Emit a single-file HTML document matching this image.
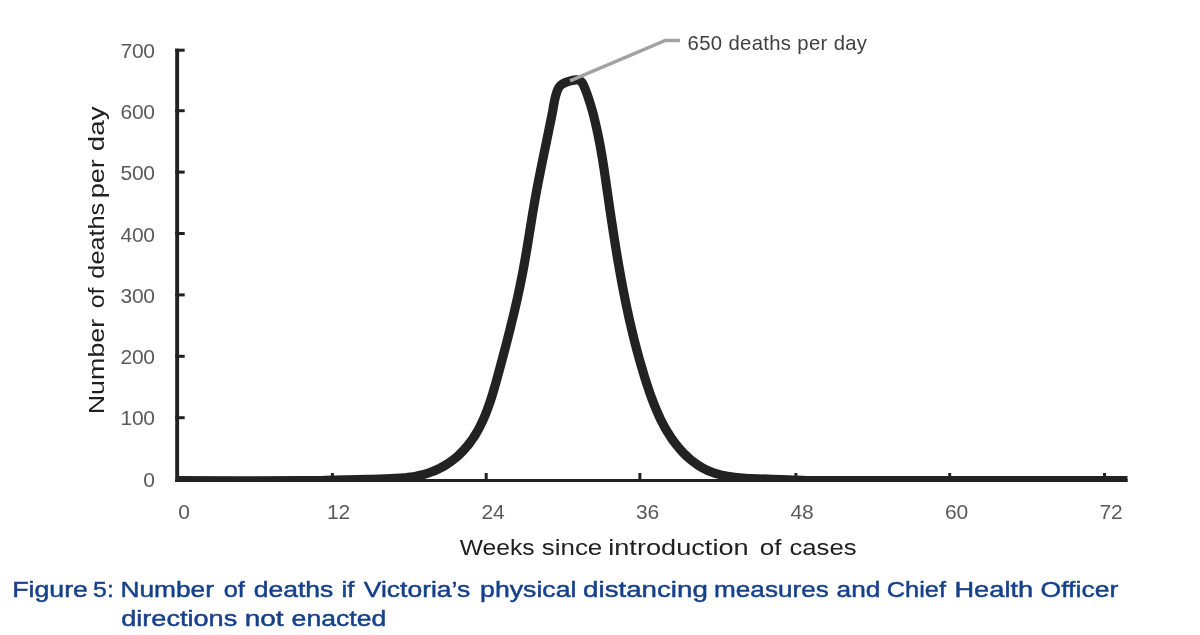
<!DOCTYPE html>
<html lang="en"><head><meta charset="utf-8"><title>Figure 5</title>
<style>html,body{margin:0;padding:0;background:#fff;}body{width:1200px;height:635px;overflow:hidden;font-family:"Liberation Sans",sans-serif;}svg{display:block;will-change:transform;}text{font-family:"Liberation Sans",sans-serif;}</style></head><body>
<svg width="1200" height="635" viewBox="0 0 1200 635">
<rect width="1200" height="635" fill="#ffffff"/>
<defs><clipPath id="plot"><rect x="170" y="0" width="1030" height="482"/></clipPath></defs>
<g fill="#222222">
<rect x="175.2" y="48.7" width="3.9" height="433.3"/>
<rect x="175.2" y="479" width="952.3" height="3"/>
<rect x="175.2" y="48.70" width="9.5" height="3"/>
<rect x="175.2" y="109.20" width="9.5" height="3"/>
<rect x="175.2" y="170.60" width="9.5" height="3"/>
<rect x="175.2" y="232.00" width="9.5" height="3"/>
<rect x="175.2" y="293.40" width="9.5" height="3"/>
<rect x="175.2" y="354.80" width="9.5" height="3"/>
<rect x="175.2" y="416.20" width="9.5" height="3"/>
<rect x="330.90" y="473" width="3" height="7"/>
<rect x="484.70" y="473" width="3" height="7"/>
<rect x="638.40" y="473" width="3" height="7"/>
<rect x="794.40" y="473" width="3" height="7"/>
<rect x="948.20" y="473" width="3" height="7"/>
<rect x="1103.00" y="473" width="3" height="7"/>
</g>
<g font-size="21" fill="#595959" text-anchor="end" letter-spacing="-0.3">
<text x="154.7" y="57.80">700</text>
<text x="154.7" y="119.06">600</text>
<text x="154.7" y="180.32">500</text>
<text x="154.7" y="241.58">400</text>
<text x="154.7" y="302.84">300</text>
<text x="154.7" y="364.10">200</text>
<text x="154.7" y="425.36">100</text>
<text x="154.7" y="486.62">0</text>
</g>
<g font-size="21" fill="#595959" text-anchor="middle" letter-spacing="-0.3">
<text x="184.00" y="519.4">0</text>
<text x="338.50" y="519.4">12</text>
<text x="493.00" y="519.4">24</text>
<text x="647.50" y="519.4">36</text>
<text x="802.00" y="519.4">48</text>
<text x="956.50" y="519.4">60</text>
<text x="1111.00" y="519.4">72</text>
</g>
<g clip-path="url(#plot)"><path d="M176.00,480.70 C196.67,480.70 273.83,480.82 300.00,480.70 C326.17,480.58 321.88,480.22 333.00,480.00 C344.12,479.78 355.56,479.73 366.70,479.40 C377.84,479.07 393.38,478.33 399.81,478.05 C406.24,477.77 403.45,477.88 405.26,477.72 C407.07,477.57 408.88,477.37 410.68,477.12 C412.48,476.87 414.28,476.57 416.06,476.23 C417.84,475.88 419.61,475.49 421.37,475.05 C423.12,474.61 424.87,474.12 426.59,473.58 C428.31,473.04 430.01,472.45 431.69,471.81 C433.37,471.18 435.03,470.49 436.66,469.75 C438.29,469.01 439.90,468.22 441.47,467.39 C443.05,466.55 444.60,465.66 446.11,464.72 C447.62,463.78 449.10,462.79 450.55,461.75 C451.99,460.72 453.41,459.64 454.79,458.51 C456.17,457.39 457.51,456.22 458.82,455.01 C460.13,453.80 461.40,452.55 462.64,451.27 C463.87,449.98 465.07,448.66 466.23,447.30 C467.39,445.95 468.52,444.55 469.60,443.13 C470.68,441.71 471.73,440.25 472.73,438.77 C473.74,437.29 474.70,435.78 475.64,434.25 C476.57,432.72 477.46,431.16 478.32,429.58 C479.18,428.01 480.01,426.41 480.81,424.79 C481.60,423.18 482.37,421.55 483.11,419.90 C483.85,418.26 484.55,416.60 485.24,414.94 C485.92,413.27 486.58,411.59 487.22,409.91 C487.85,408.23 488.46,406.54 489.06,404.84 C489.65,403.14 490.23,401.44 490.78,399.73 C491.34,398.02 491.88,396.30 492.41,394.58 C492.94,392.86 493.45,391.13 493.96,389.41 C494.46,387.68 494.96,385.95 495.45,384.22 C495.93,382.48 496.41,380.75 496.89,379.01 C497.37,377.28 497.84,375.54 498.31,373.80 C498.78,372.06 499.25,370.33 499.72,368.59 C500.19,366.86 500.66,365.12 501.12,363.38 C501.59,361.65 502.05,359.91 502.52,358.18 C502.98,356.44 503.44,354.70 503.90,352.97 C504.36,351.23 504.82,349.50 505.27,347.76 C505.73,346.02 506.18,344.29 506.63,342.55 C507.08,340.81 507.53,339.08 507.97,337.34 C508.42,335.60 508.86,333.86 509.30,332.13 C509.74,330.39 510.17,328.65 510.61,326.91 C511.04,325.17 511.47,323.43 511.89,321.69 C512.32,319.95 512.74,318.21 513.16,316.46 C513.58,314.72 513.99,312.98 514.40,311.24 C514.81,309.49 515.22,307.75 515.62,306.00 C516.02,304.26 516.42,302.51 516.81,300.76 C517.21,299.01 517.59,297.27 517.98,295.52 C518.36,293.77 518.74,292.01 519.11,290.26 C519.49,288.51 519.85,286.76 520.22,285.00 C520.58,283.25 520.94,281.49 521.29,279.73 C521.64,277.98 521.99,276.22 522.33,274.46 C522.67,272.70 523.00,270.93 523.33,269.17 C523.66,267.41 523.98,265.64 524.30,263.87 C524.62,262.11 524.93,260.34 525.24,258.57 C525.55,256.80 525.85,255.03 526.15,253.26 C526.45,251.49 526.75,249.72 527.04,247.94 C527.34,246.17 527.63,244.40 527.92,242.62 C528.21,240.85 528.49,239.08 528.78,237.30 C529.07,235.53 529.35,233.75 529.64,231.98 C529.92,230.20 530.21,228.42 530.49,226.65 C530.78,224.87 531.07,223.10 531.35,221.32 C531.64,219.55 531.93,217.78 532.22,216.00 C532.52,214.23 532.81,212.45 533.11,210.68 C533.41,208.91 533.71,207.14 534.01,205.37 C534.31,203.60 534.62,201.83 534.94,200.06 C535.25,198.29 535.57,196.52 535.89,194.76 C536.21,192.99 536.54,191.22 536.87,189.46 C537.20,187.70 537.53,185.93 537.87,184.17 C538.21,182.41 538.55,180.65 538.90,178.88 C539.24,177.12 539.59,175.36 539.94,173.60 C540.29,171.84 540.64,170.09 540.99,168.33 C541.35,166.57 541.70,164.81 542.06,163.05 C542.42,161.29 542.78,159.54 543.14,157.78 C543.50,156.02 543.86,154.27 544.23,152.51 C544.59,150.75 544.95,148.99 545.31,147.24 C545.68,145.48 546.04,143.72 546.41,141.97 C546.77,140.21 547.13,138.45 547.49,136.70 C547.86,134.94 548.22,133.18 548.58,131.42 C548.94,129.67 549.30,127.91 549.66,126.15 C550.02,124.39 550.37,122.63 550.73,120.87 C551.08,119.11 551.43,117.35 551.78,115.59 C552.13,113.83 552.36,112.87 552.83,110.30 C553.30,107.74 553.90,103.33 554.60,100.20 C555.30,97.07 556.17,93.80 557.00,91.50 C557.83,89.20 558.43,87.78 559.60,86.40 C560.77,85.02 562.18,84.12 564.00,83.20 C565.82,82.28 568.42,81.47 570.50,80.90 C572.58,80.33 574.92,79.85 576.50,79.80 C578.08,79.75 578.98,80.00 580.00,80.60 C581.02,81.20 581.67,81.80 582.60,83.40 C583.53,85.00 584.52,87.40 585.60,90.20 C586.68,93.00 588.01,96.85 589.10,100.20 C590.19,103.55 591.42,107.74 592.17,110.31 C592.92,112.89 593.14,113.87 593.60,115.66 C594.06,117.44 594.51,119.23 594.94,121.02 C595.38,122.81 595.80,124.61 596.21,126.41 C596.62,128.21 597.01,130.01 597.40,131.81 C597.78,133.62 598.16,135.43 598.52,137.24 C598.88,139.05 599.24,140.87 599.58,142.68 C599.93,144.50 600.26,146.32 600.59,148.14 C600.92,149.96 601.23,151.78 601.55,153.61 C601.86,155.43 602.16,157.26 602.46,159.08 C602.76,160.91 603.05,162.74 603.34,164.57 C603.63,166.40 603.91,168.24 604.19,170.07 C604.47,171.90 604.74,173.73 605.01,175.57 C605.29,177.40 605.55,179.24 605.82,181.07 C606.09,182.91 606.35,184.74 606.62,186.58 C606.88,188.41 607.14,190.25 607.41,192.08 C607.67,193.92 607.93,195.75 608.20,197.59 C608.46,199.42 608.73,201.25 608.99,203.09 C609.26,204.92 609.52,206.75 609.79,208.58 C610.06,210.41 610.33,212.25 610.60,214.08 C610.87,215.91 611.14,217.74 611.41,219.57 C611.69,221.40 611.96,223.23 612.24,225.05 C612.51,226.88 612.79,228.71 613.07,230.54 C613.35,232.37 613.64,234.19 613.92,236.02 C614.20,237.84 614.49,239.67 614.78,241.49 C615.07,243.32 615.36,245.14 615.66,246.97 C615.95,248.79 616.25,250.61 616.55,252.43 C616.85,254.26 617.15,256.08 617.45,257.90 C617.76,259.72 618.07,261.54 618.38,263.36 C618.69,265.18 619.01,267.00 619.33,268.81 C619.65,270.63 619.97,272.45 620.30,274.26 C620.62,276.08 620.95,277.89 621.29,279.71 C621.62,281.52 621.96,283.34 622.30,285.15 C622.64,286.96 622.99,288.77 623.34,290.58 C623.69,292.39 624.05,294.20 624.41,296.01 C624.77,297.82 625.13,299.63 625.50,301.44 C625.87,303.24 626.25,305.05 626.63,306.86 C627.01,308.66 627.39,310.47 627.78,312.27 C628.17,314.07 628.57,315.88 628.97,317.68 C629.37,319.48 629.78,321.28 630.19,323.08 C630.60,324.88 631.02,326.68 631.45,328.47 C631.87,330.27 632.30,332.07 632.74,333.86 C633.17,335.66 633.62,337.45 634.07,339.24 C634.52,341.04 634.97,342.83 635.43,344.62 C635.90,346.41 636.36,348.20 636.84,349.99 C637.32,351.78 637.80,353.57 638.29,355.35 C638.78,357.14 639.28,358.92 639.78,360.71 C640.29,362.49 640.80,364.27 641.32,366.06 C641.84,367.84 642.36,369.62 642.90,371.40 C643.43,373.18 643.97,374.95 644.52,376.73 C645.07,378.51 645.63,380.28 646.20,382.06 C646.77,383.83 647.34,385.60 647.93,387.37 C648.52,389.14 649.11,390.90 649.73,392.66 C650.34,394.42 650.96,396.18 651.60,397.92 C652.24,399.67 652.90,401.41 653.57,403.14 C654.24,404.87 654.93,406.59 655.65,408.30 C656.36,410.01 657.09,411.71 657.84,413.40 C658.59,415.08 659.37,416.76 660.16,418.42 C660.96,420.08 661.79,421.73 662.64,423.36 C663.49,424.99 664.36,426.60 665.26,428.20 C666.17,429.79 667.10,431.37 668.06,432.93 C669.03,434.49 670.02,436.03 671.05,437.55 C672.08,439.07 673.13,440.56 674.23,442.04 C675.33,443.51 676.45,444.96 677.62,446.39 C678.79,447.81 679.99,449.22 681.24,450.59 C682.48,451.96 683.76,453.31 685.08,454.61 C686.40,455.92 687.76,457.19 689.15,458.42 C690.55,459.64 691.98,460.83 693.45,461.96 C694.92,463.08 696.42,464.16 697.96,465.17 C699.50,466.19 701.08,467.14 702.69,468.03 C704.30,468.91 705.95,469.72 707.63,470.47 C709.31,471.21 711.02,471.88 712.76,472.49 C714.50,473.10 716.26,473.64 718.05,474.14 C719.83,474.63 721.64,475.06 723.46,475.45 C725.28,475.85 727.12,476.18 728.97,476.48 C730.81,476.78 732.68,477.03 734.54,477.26 C736.40,477.48 738.26,477.67 740.13,477.83 C741.99,478.00 743.86,478.13 745.71,478.24 C747.57,478.36 749.42,478.45 751.26,478.54 C753.09,478.62 751.65,478.56 756.73,478.75 C761.80,478.95 773.37,479.41 781.70,479.70 C790.03,479.99 796.98,480.35 806.70,480.50 C816.42,480.65 824.45,480.57 840.00,480.60 C855.55,480.63 852.08,480.68 900.00,480.70 C947.92,480.72 1089.58,480.70 1127.50,480.70" fill="none" stroke="#222222" stroke-width="9.2" stroke-linejoin="round" stroke-linecap="butt"/></g>
<path d="M570,80.9 L665.3,40.5 L680,40.5" fill="none" stroke="#a2a2a2" stroke-width="3.4" stroke-linejoin="miter"/>
<text x="687.6" y="49.6" font-size="20.3" fill="#404040" textLength="179.4" lengthAdjust="spacing">650 deaths per day</text>
<g transform="translate(103.5,412.5) rotate(-90)" font-size="22" fill="#202020">
<text x="-1.80" y="0" textLength="95.56" lengthAdjust="spacingAndGlyphs">Number</text>
<text x="104.36" y="0" textLength="20.64" lengthAdjust="spacingAndGlyphs">of</text>
<text x="133.86" y="0" textLength="75.78" lengthAdjust="spacingAndGlyphs">deaths</text>
<text x="214.32" y="0" textLength="39.06" lengthAdjust="spacingAndGlyphs">per</text>
<text x="261.34" y="0" textLength="44.78" lengthAdjust="spacingAndGlyphs">day</text>
</g>
<g font-size="22" fill="#202020">
<text x="459.86" y="554.8" textLength="74.66" lengthAdjust="spacingAndGlyphs">Weeks</text>
<text x="541.72" y="554.8" textLength="60.56" lengthAdjust="spacingAndGlyphs">since</text>
<text x="608.20" y="554.8" textLength="140.46" lengthAdjust="spacingAndGlyphs">introduction</text>
<text x="759.72" y="554.8" textLength="21.78" lengthAdjust="spacingAndGlyphs">of</text>
<text x="789.48" y="554.8" textLength="67.16" lengthAdjust="spacingAndGlyphs">cases</text>
</g>
<g font-size="22" fill="#15408a" stroke="#15408a" stroke-width="0.45">
<text x="12.20" y="597.3" textLength="75.70" lengthAdjust="spacingAndGlyphs">Figure</text>
<text x="93.10" y="597.3" textLength="20.70" lengthAdjust="spacingAndGlyphs">5:</text>
<text x="120.46" y="597.3" textLength="93.54" lengthAdjust="spacingAndGlyphs">Number</text>
<text x="223.72" y="597.3" textLength="21.14" lengthAdjust="spacingAndGlyphs">of</text>
<text x="253.74" y="597.3" textLength="79.64" lengthAdjust="spacingAndGlyphs">deaths</text>
<text x="341.46" y="597.3" textLength="12.90" lengthAdjust="spacingAndGlyphs">if</text>
<text x="363.76" y="597.3" textLength="106.50" lengthAdjust="spacingAndGlyphs">Victoria’s</text>
<text x="480.08" y="597.3" textLength="96.34" lengthAdjust="spacingAndGlyphs">physical</text>
<text x="583.10" y="597.3" textLength="124.70" lengthAdjust="spacingAndGlyphs">distancing</text>
<text x="714.10" y="597.3" textLength="114.66" lengthAdjust="spacingAndGlyphs">measures</text>
<text x="836.60" y="597.3" textLength="43.80" lengthAdjust="spacingAndGlyphs">and</text>
<text x="886.84" y="597.3" textLength="59.14" lengthAdjust="spacingAndGlyphs">Chief</text>
<text x="954.44" y="597.3" textLength="78.72" lengthAdjust="spacingAndGlyphs">Health</text>
<text x="1040.60" y="597.3" textLength="77.64" lengthAdjust="spacingAndGlyphs">Officer</text>
</g>
<g font-size="22" fill="#15408a" stroke="#15408a" stroke-width="0.45">
<text x="121.24" y="625.5" textLength="116.02" lengthAdjust="spacingAndGlyphs">directions</text>
<text x="244.70" y="625.5" textLength="38.80" lengthAdjust="spacingAndGlyphs">not</text>
<text x="291.60" y="625.5" textLength="94.68" lengthAdjust="spacingAndGlyphs">enacted</text>
</g>
</svg></body></html>
